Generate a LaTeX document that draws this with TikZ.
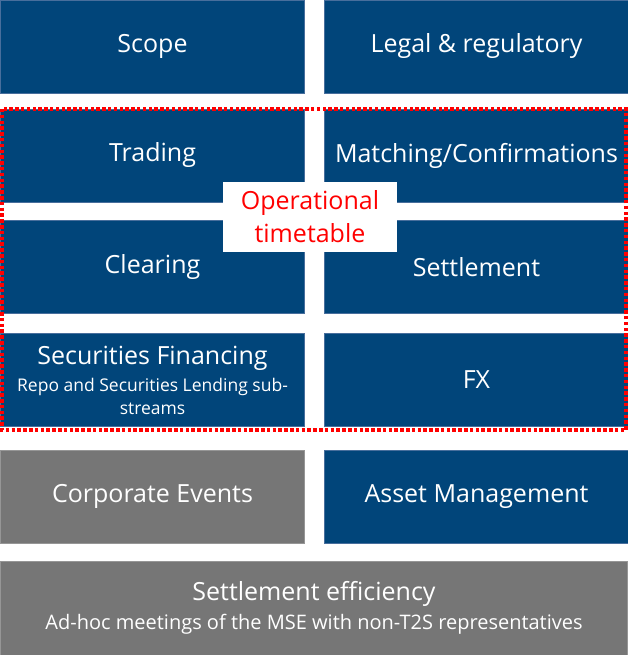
\documentclass[tikz,border=0pt]{standalone}
\usepackage{fontspec}
\setmainfont{Open Sans}
\definecolor{wsblue}{RGB}{1,69,122}
\definecolor{wsblueedge}{RGB}{72,110,156}
\definecolor{wsgray}{RGB}{118,118,118}
\definecolor{wsgrayedge}{RGB}{150,150,150}
\definecolor{optred}{RGB}{255,0,0}
\newcommand{\titlefont}{\fontsize{25}{30}\selectfont}
\newcommand{\subfont}{\fontsize{17.5}{21}\selectfont}
\newcommand{\wsubfont}{\fontsize{20}{22}\selectfont}
\begin{document}
\begin{tikzpicture}[x=1pt,y=-1pt,
  stream/.style={draw=wsblueedge,line width=.8pt,fill=wsblue,text=white,
    inner sep=0pt,align=center,font=\titlefont},
  halfbox/.style={minimum width=304pt,minimum height=93pt},
  greystream/.style={stream,draw=wsgrayedge,fill=wsgray}]
\useasboundingbox (0,0) rectangle (628,655);
% Top row
\node[stream,halfbox] (scope) at (152.5,46.5) {Scope};
\node[stream,halfbox] (legal) at (476.5,46.5) {Legal \& regulatory};
% Streams covered by the operational timetable
\node[stream,halfbox] (trading) at (152.5,155.5) {Trading};
\node[stream,halfbox] (matching) at (476.5,155.5) {Matching/Confirmations};
\node[stream,halfbox] (clearing) at (152.5,267) {Clearing};
\node[stream,halfbox] (settlement) at (476.5,267) {Settlement};
\node[stream,halfbox] (secfin) at (152.5,380)
  {Securities Financing\\[-3pt]\subfont Repo and Securities Lending sub-\\[-7pt]\subfont streams};
\node[stream,halfbox] (fx) at (476.5,380) {FX};
% Lower rows
\node[greystream,halfbox] (corporate) at (152.5,496.5) {Corporate Events};
\node[stream,halfbox] (assetmgmt) at (476.5,496.5) {Asset Management};
\node[greystream,minimum width=627pt,minimum height=94pt] (efficiency) at (314,608)
  {Settlement efficiency\\[-1pt]\wsubfont Ad-hoc meetings of the MSE with non-T2S representatives};
% Dotted frame and its label
\draw[optred,line width=3.5pt,dash pattern=on 3.5pt off 2.3pt] (2,109) rectangle (626,430);
\node[fill=white,text=optred,font=\titlefont,align=center,
  minimum width=174pt,minimum height=70pt,inner sep=0pt] (timetable) at (310,217)
  {Operational\\[3pt]timetable};
\end{tikzpicture}
\end{document}
